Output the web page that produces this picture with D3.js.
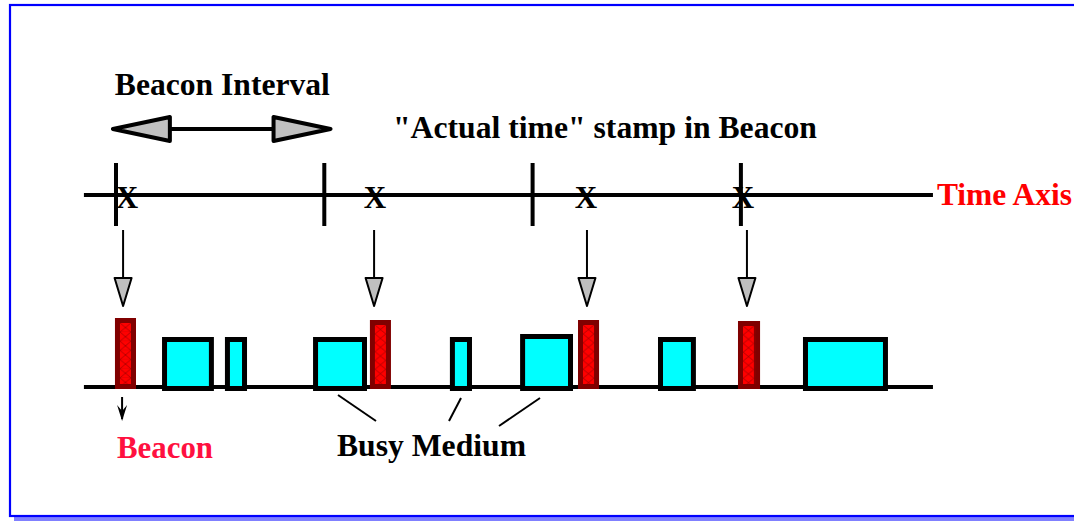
<!DOCTYPE html>
<html>
<head>
<meta charset="utf-8">
<script src="https://cdn.jsdelivr.net/npm/d3@7"></script>
<style>
  html, body { margin: 0; padding: 0; background: #fff; }
  svg { display: block; }
  text { font-family: "Liberation Serif", "Times New Roman", serif; font-weight: bold; }
</style>
</head>
<body>
<svg id="chart" width="1074" height="521"></svg>
<script>
// ---- data (time in units where one beacon interval = 100) ----
const intervalTicks = [0, 100, 200, 300];
const axisExtent = [-15.4, 392.2];
const intervalArrow = [-1.5, 103];
const stampTimes = [5.3, 124.3, 225.6, 301.0];
const arrowTimes = [3.4, 123.9, 226.1, 302.9];
const beaconStart = [-0.5, 121.9, 221.8, 298.6];
const beaconEnd = [9.6, 132.0, 231.9, 309.2];
const beaconHeight = [1.38, 1.34, 1.34, 1.32];
const busyStart = [22.1, 52.3, 94.6, 160.3, 194.0, 260.2, 329.8];
const busyEnd = [47.0, 62.9, 120.5, 170.9, 219.4, 278.4, 370.6];
const busyHeight = [1, 1, 1, 1, 1.06, 1, 1];
const busyPointed = [2, 3, 4];
const stampMark = "X";
const labels = {
  interval: "Beacon Interval",
  stamp: "\"Actual time\" stamp in Beacon",
  axis: "Time Axis",
  beacon: "Beacon",
  busy: "Busy Medium"
};

// ---- scales ----
const x = d3.scaleLinear().domain([0, 100]).range([116, 324.3]);
const y = d3.scaleLinear().domain([0, 1]).range([387, 337]);
const axisY = 195;

const svg = d3.select("#chart");
const defs = svg.append("defs");
const pat = defs.append("pattern").attr("id", "hatch")
  .attr("patternUnits", "objectBoundingBox")
  .attr("width", 1).attr("height", 0.15);
pat.append("rect").attr("width", 11).attr("height", 9).attr("fill", "#ff0000");
pat.append("path").attr("d", "M0,0L11,9M11,0L0,9")
  .attr("stroke", "#8a0000").attr("stroke-width", 0.6).attr("fill", "none");

// ---- frame ----
svg.append("rect").attr("x", 14).attr("y", 517).attr("width", 1070).attr("height", 4).attr("fill", "#8080ff");
svg.append("rect").attr("x", 10).attr("y", 5).attr("width", 1080).attr("height", 511)
  .attr("fill", "none").attr("stroke", "#0000ff").attr("stroke-width", 2.2);

// ---- top: beacon interval ----
svg.append("text").attr("x", x(intervalArrow[0]) + 2).attr("y", 95)
  .attr("font-size", 31).attr("textLength", 215).attr("lengthAdjust", "spacingAndGlyphs")
  .text(labels.interval);

const ay = 129, headLen = 57, headHalf = 12;
const xa0 = x(intervalArrow[0]), xa1 = x(intervalArrow[1]);
svg.append("line").attr("x1", xa0 + headLen).attr("x2", xa1 - headLen)
  .attr("y1", ay).attr("y2", ay).attr("stroke", "#000").attr("stroke-width", 4);
[[xa0, 1], [xa1, -1]].forEach(([tip, dir]) => {
  svg.append("path")
    .attr("d", `M${tip},${ay}L${tip + dir * headLen},${ay - headHalf}L${tip + dir * headLen},${ay + headHalf}Z`)
    .attr("fill", "#c0c0c0").attr("stroke", "#000").attr("stroke-width", 4)
    .attr("stroke-linejoin", "round");
});

svg.append("text").attr("x", 393).attr("y", 138)
  .attr("font-size", 31).attr("textLength", 424).attr("lengthAdjust", "spacingAndGlyphs")
  .text(labels.stamp);

// ---- time axis ----
svg.selectAll("text.stamp").data(stampTimes).join("text").attr("class", "stamp")
  .attr("x", d => x(d)).attr("y", 208).attr("text-anchor", "middle")
  .attr("font-size", 31).text(stampMark);

svg.append("line").attr("x1", x(axisExtent[0])).attr("x2", x(axisExtent[1]))
  .attr("y1", axisY).attr("y2", axisY).attr("stroke", "#000").attr("stroke-width", 4);
svg.selectAll("line.tick").data(intervalTicks).join("line").attr("class", "tick")
  .attr("x1", d => x(d)).attr("x2", d => x(d))
  .attr("y1", axisY - 32).attr("y2", axisY + 31)
  .attr("stroke", "#000").attr("stroke-width", 4);

svg.append("text").attr("x", x(axisExtent[1]) + 4).attr("y", 205)
  .attr("font-size", 31).attr("fill", "#ff0000")
  .attr("textLength", 135).attr("lengthAdjust", "spacingAndGlyphs")
  .text(labels.axis);

// ---- stamp arrows ----
const arrTop = 230, arrHead = 278, arrTip = 306, arrHalf = 8.5;
const arrows = svg.selectAll("g.arr").data(arrowTimes).join("g").attr("class", "arr");
arrows.append("line").attr("x1", d => x(d)).attr("x2", d => x(d))
  .attr("y1", arrTop).attr("y2", arrHead).attr("stroke", "#000").attr("stroke-width", 2);
arrows.append("path")
  .attr("d", d => `M${x(d) - arrHalf},${arrHead}L${x(d) + arrHalf},${arrHead}L${x(d)},${arrTip}Z`)
  .attr("fill", "#bfbfbf").attr("stroke", "#000").attr("stroke-width", 2)
  .attr("stroke-linejoin", "round");

// ---- medium ----
svg.append("line").attr("x1", x(axisExtent[0])).attr("x2", x(axisExtent[1]))
  .attr("y1", y(0)).attr("y2", y(0)).attr("stroke", "#000").attr("stroke-width", 4);

const busy = busyStart.map((s, i) => ({ s, e: busyEnd[i], h: busyHeight[i] }));
svg.selectAll("rect.busy").data(busy).join("rect").attr("class", "busy")
  .attr("x", d => x(d.s) + 2.5).attr("width", d => x(d.e) - x(d.s) - 5)
  .attr("y", d => y(d.h) + 2.5).attr("height", d => y(0) - y(d.h) - 1)
  .attr("fill", "#00ffff").attr("stroke", "#000").attr("stroke-width", 5);

const beacons = beaconStart.map((s, i) => ({ s, e: beaconEnd[i], h: beaconHeight[i] }));
const bg = svg.selectAll("g.beacon").data(beacons).join("g").attr("class", "beacon");
bg.append("rect")
  .attr("x", d => x(d.s)).attr("width", d => x(d.e) - x(d.s))
  .attr("y", d => y(d.h)).attr("height", d => y(0) - y(d.h) + 2)
  .attr("fill", "#800000");
bg.append("rect")
  .attr("x", d => x(d.s) + 5).attr("width", d => x(d.e) - x(d.s) - 10)
  .attr("y", d => y(d.h) + 5).attr("height", d => y(0) - y(d.h) - 8)
  .attr("fill", "url(#hatch)");

// ---- beacon label ----
const bx = x(arrowTimes[0]) - 1;
svg.append("line").attr("x1", bx).attr("x2", bx).attr("y1", 397).attr("y2", 419)
  .attr("stroke", "#000").attr("stroke-width", 2);
svg.append("path").attr("d", `M${bx - 5},${405}L${bx},${421}L${bx + 5},${405}L${bx},${411}Z`)
  .attr("fill", "#000");
svg.append("text").attr("x", 117).attr("y", 458)
  .attr("font-size", 31).attr("fill", "#ff1040")
  .attr("textLength", 96).attr("lengthAdjust", "spacingAndGlyphs")
  .text(labels.beacon);

// ---- busy medium label ----
const leaderEnds = [[376, 421], [449, 421], [499, 426]];
svg.selectAll("line.leader").data(busyPointed).join("line").attr("class", "leader")
  .attr("x1", (d, i) => [338, 461, 540][i])
  .attr("y1", (d, i) => i === 0 ? 395 : 398)
  .attr("x2", (d, i) => leaderEnds[i][0]).attr("y2", (d, i) => leaderEnds[i][1])
  .attr("stroke", "#000").attr("stroke-width", 2);
svg.append("text").attr("x", 337).attr("y", 456)
  .attr("font-size", 31).attr("textLength", 189).attr("lengthAdjust", "spacingAndGlyphs")
  .text(labels.busy);
</script>
</body>
</html>
